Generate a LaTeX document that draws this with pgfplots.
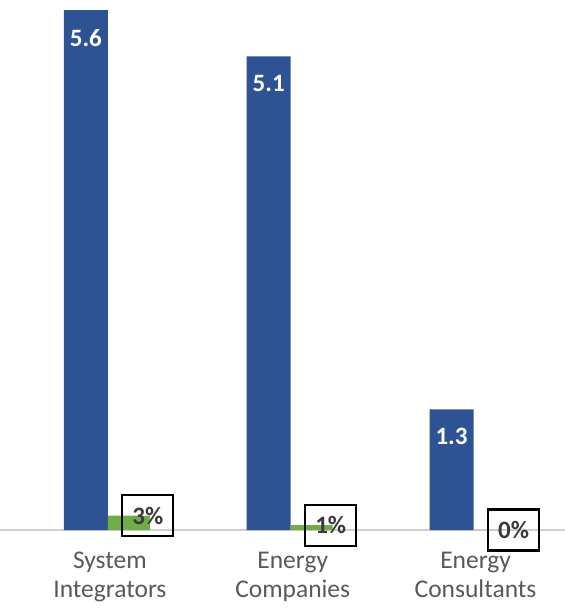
\documentclass[border=0pt]{standalone}
\usepackage{pgfplots}
\pgfplotsset{compat=1.18}
\usepackage{fontspec}
\setmainfont{Carlito}
\definecolor{barblue}{HTML}{2D5395}
\definecolor{bargreen}{HTML}{70AD47}
\definecolor{axisgray}{HTML}{D0D0D0}
\definecolor{labelgray}{HTML}{595959}
\definecolor{pctgray}{HTML}{3A3A3A}

\begin{document}
\begin{tikzpicture}
\pgfplotsset{
  common/.style={
    scale only axis, width=565pt, height=530pt,
    xmin=-0.59, xmax=2.5, ymin=0,
    /pgf/number format/assume math mode=true,
    ybar,
  }
}
% counts (blue bars)
\begin{axis}[common, name=main, ymax=5.708,
  hide y axis, axis x line*=bottom,
  x axis line style={-, draw=axisgray, line width=1.5pt},
  xtick={0,1,2},
  xticklabels={{System\\Integrators},{Energy\\Companies},{Energy\\Consultants}},
  major tick length=0pt,
  xticklabel style={font=\fontsize{25.5}{29}\selectfont, text=labelgray,
    align=center, inner sep=0pt, anchor=north, yshift=-22pt, xshift=2pt},
  bar width=44pt, bar shift=-22pt,
  nodes near coords={\pgfmathprintnumber[fixed,precision=1]{\pgfplotspointmeta}},
  every node near coord/.append style={anchor=north, inner sep=0pt, yshift=-19pt,
    text=white, font=\fontsize{25}{30}\selectfont\bfseries},
]
\addplot[fill=barblue, draw=none] coordinates {(0,5.6) (1,5.1) (2,1.3)};
\end{axis}
% shares in percent (green bars, own scale)
\begin{axis}[common, ymax=110, hide axis,
  bar width=42pt, bar shift=21pt,
  nodes near coords={\pgfmathprintnumber{\pgfplotspointmeta}\%},
  every node near coord/.append style={anchor=center, xshift=19pt,
    draw=black, line width=2.2pt, minimum width=51pt, minimum height=41pt,
    inner sep=0pt, text=pctgray, font=\fontsize{25}{29}\selectfont\bfseries},
]
\addplot[fill=bargreen, draw=none] coordinates {(0,3) (1,1) (2,0)};
\end{axis}
\pgfresetboundingbox
\path (main.south west) ++(0,-81pt) rectangle (main.north east);
\end{tikzpicture}
\end{document}
